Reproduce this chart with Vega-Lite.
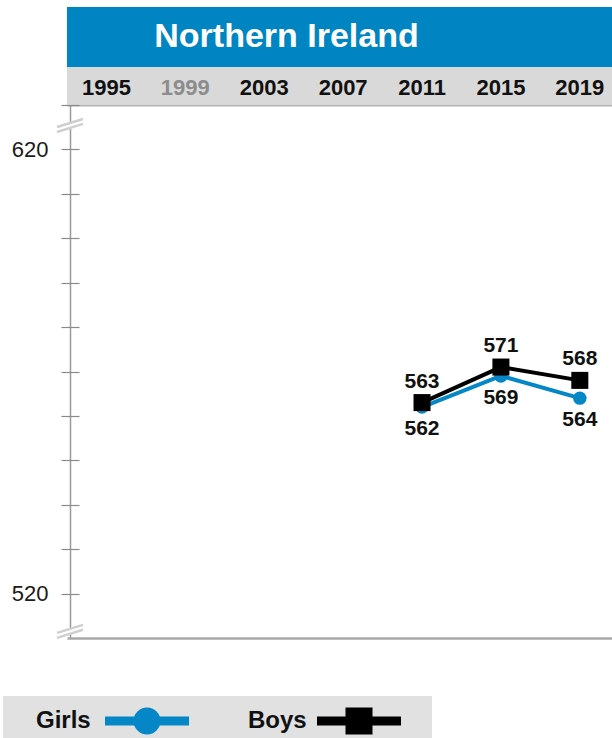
{
  "$schema": "https://vega.github.io/schema/vega-lite/v6.json",
  "padding": {"left": 3, "top": 7, "right": 0, "bottom": 0},
  "spacing": 0,
  "bounds": "flush",
  "config": {"view": {"stroke": null}, "font": "Liberation Sans"},
  "vconcat": [
    {
      "width": 545,
      "height": 60,
      "data": {"values": [{"title": "Northern Ireland"}]},
      "layer": [
        {"mark": {"type": "rect", "color": "#0085c3"}, "encoding": {}},
        {
          "mark": {"type": "text", "color": "white", "fontSize": 34, "fontWeight": "bold", "dx": -53, "baseline": "middle", "align": "center"},
          "encoding": {"text": {"field": "title", "type": "nominal"}}
        }
      ]
    },
    {
      "width": 545,
      "height": 38,
      "layer": [
        {"data": {"values": [{}]}, "mark": {"type": "rect", "color": "#d9d9d9"}, "encoding": {}},
        {
          "data": {"values": [{"year": 1995}, {"year": 1999}, {"year": 2003}, {"year": 2007}, {"year": 2011}, {"year": 2015}, {"year": 2019}]},
          "mark": {"type": "text", "fontSize": 22, "fontWeight": "bold", "baseline": "middle", "align": "center", "dy": 2},
          "encoding": {
            "x": {"field": "year", "type": "quantitative", "scale": {"domain": [1993, 2020.632], "nice": false, "zero": false},
                  "axis": {"orient": "bottom", "title": null, "labels": false, "ticks": false, "grid": false, "domainColor": "#b4b4b4", "domainWidth": 2}},
            "text": {"field": "year", "type": "nominal"},
            "color": {"condition": {"test": "datum.year === 1999", "value": "#8c8c8c"}, "value": "#111111"}
          }
        }
      ]
    },
    {
      "width": 545,
      "height": 533,
      "data": {"values": [
        {"year": 2011, "sex": "Girls", "score": 562},
        {"year": 2015, "sex": "Girls", "score": 569},
        {"year": 2019, "sex": "Girls", "score": 564},
        {"year": 2011, "sex": "Boys", "score": 563},
        {"year": 2015, "sex": "Boys", "score": 571},
        {"year": 2019, "sex": "Boys", "score": 568}
      ]},
      "encoding": {
        "x": {"field": "year", "type": "quantitative", "title": null,
              "scale": {"domain": [1993, 2020.632], "nice": false, "zero": false},
              "axis": {"orient": "bottom", "title": null, "labels": false, "ticks": false,
                       "grid": true, "values": [1993.152], "gridColor": "#9a9a9a", "gridWidth": 1.5, "gridOpacity": 1,
                       "domainColor": "#a8a8a8", "domainWidth": 2.5}},
        "y": {"field": "score", "type": "quantitative", "title": null,
              "scale": {"domain": [510, 630], "nice": false, "zero": false},
              "axis": {"title": null, "grid": false, "domain": false, "values": [520, 530, 540, 550, 560, 570, 580, 590, 600, 610, 620, 630],
                       "labelExpr": "datum.value === 520 || datum.value === 620 ? datum.label : ''",
                       "offset": -12, "tickSize": 18, "tickColor": "#8a8a8a", "tickWidth": 1.2,
                       "labelPadding": 13, "labelFontSize": 22, "labelColor": "#1a1a1a", "labelFont": "Liberation Sans"}}
      },
      "layer": [
        {
          "mark": {"type": "point", "filled": false, "opacity": 0},
          "encoding": {
            "color": {"field": "sex", "type": "nominal",
              "scale": {"domain": ["Girls", "Boys"], "range": ["#0587c7", "#000000"]},
              "legend": {
                "orient": "none", "legendX": -64, "legendY": 689, "direction": "horizontal", "title": null,
                "fillColor": "#e1e1e1", "padding": 13, "columnPadding": 21, "symbolSize": 4, "symbolOffset": 119,
                "symbolStrokeWidth": 9, "symbolOpacity": 1,
                "labelFont": "Liberation Sans", "labelFontWeight": "bold", "labelFontSize": 24, "labelColor": "#111111",
                "labelAlign": "left", "labelOffset": -123, "labelBaseline": "middle"
              }
            },
            "shape": {"field": "sex", "type": "nominal",
              "scale": {"domain": ["Girls", "Boys"], "range": [
                "M-42,0H42M9,0A9,9,0,1,1,-9,0A9,9,0,1,1,9,0Z",
                "M-42,0H42M-9,-9H9V9H-9Z"
              ]},
              "legend": {
                "orient": "none", "legendX": -64, "legendY": 689, "direction": "horizontal", "title": null,
                "fillColor": "#e1e1e1", "padding": 13, "columnPadding": 21, "symbolSize": 4, "symbolOffset": 119,
                "symbolStrokeWidth": 9, "symbolOpacity": 1,
                "labelFont": "Liberation Sans", "labelFontWeight": "bold", "labelFontSize": 24, "labelColor": "#111111",
                "labelAlign": "left", "labelOffset": -123, "labelBaseline": "middle"
              }
            }
          }
        },
        {
          "transform": [{"filter": "datum.sex === 'Girls'"}],
          "mark": {"type": "line", "strokeWidth": 4},
          "encoding": {"color": {"field": "sex", "type": "nominal"}}
        },
        {
          "transform": [{"filter": "datum.sex === 'Girls'"}],
          "mark": {"type": "point", "shape": "circle", "filled": true, "size": 180, "opacity": 1},
          "encoding": {"color": {"field": "sex", "type": "nominal"}}
        },
        {
          "transform": [{"filter": "datum.sex === 'Boys'"}],
          "mark": {"type": "line", "strokeWidth": 4},
          "encoding": {"color": {"field": "sex", "type": "nominal"}}
        },
        {
          "transform": [{"filter": "datum.sex === 'Boys'"}],
          "mark": {"type": "point", "shape": "square", "filled": true, "size": 290, "opacity": 1},
          "encoding": {"color": {"field": "sex", "type": "nominal"}}
        },
        {
          "transform": [{"filter": "datum.sex === 'Boys'"}],
          "mark": {"type": "text", "fontSize": 21, "fontWeight": "bold", "dy": -21, "color": "#111111", "baseline": "middle"},
          "encoding": {"text": {"field": "score", "type": "quantitative"}}
        },
        {
          "transform": [{"filter": "datum.sex === 'Girls'"}],
          "mark": {"type": "text", "fontSize": 21, "fontWeight": "bold", "dy": 22, "color": "#111111", "baseline": "middle"},
          "encoding": {"text": {"field": "score", "type": "quantitative"}}
        },
        {
          "data": {"values": [{"year": 1993.152, "score": 625.4}, {"year": 1993.152, "score": 511.5}]},
          "mark": {"type": "point", "shape": "M-1,0.12L1,-0.5L1,-0.12L-1,0.5Z", "filled": true, "color": "white", "size": 676, "opacity": 1, "strokeWidth": 0},
          "encoding": {}
        },
        {
          "data": {"values": [{"year": 1993.152, "score": 625.4}, {"year": 1993.152, "score": 511.5}]},
          "mark": {"type": "point", "shape": "M-1,0.12L1,-0.5M-1,0.5L1,-0.12", "filled": false, "color": "#cfcfcf", "strokeWidth": 2.5, "size": 676, "opacity": 1},
          "encoding": {}
        }
      ]
    }
  ]
}
